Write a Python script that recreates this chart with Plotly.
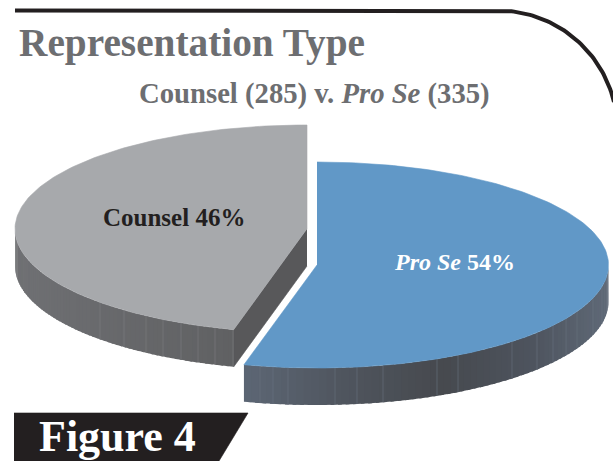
import numpy as np
import plotly.graph_objects as go

# Data
categories = ["Pro Se", "Counsel"]
counts = [335, 285]
percent_labels = ["54%", "46%"]
title_text = "Representation Type"
subtitle_text = "Counsel (285) v. <i>Pro Se</i> (335)"
banner_text = "Figure 4"

W, H = 613, 461
total = sum(counts)
split = 2 * np.pi * counts[0] / total  # clockwise angle from 12 o'clock

BLUE = dict(cx=317, cy=265, a=291.5, b=103)
GRAY = dict(cx=307, cy=229, a=292, b=104)
DEPTH = 37


def pt(g, t, dy=0):
    return g["cx"] + g["a"] * np.sin(t), g["cy"] - g["b"] * np.cos(t) + dy


fig = go.Figure()


def poly(x, y, color, line=None, w=0.6):
    fig.add_trace(go.Scatter(x=list(x), y=list(y), mode="lines", fill="toself",
                             fillcolor=color, line=dict(color=line or color, width=w),
                             hoverinfo="skip", showlegend=False))


def stroke(x, y, color, w):
    fig.add_trace(go.Scatter(x=list(x), y=list(y), mode="lines",
                             line=dict(color=color, width=w),
                             hoverinfo="skip", showlegend=False))


def lerp(stops, x):
    xs = [s[0] for s in stops]
    return "rgb(%d,%d,%d)" % tuple(
        np.interp(x, xs, [s[1][i] for s in stops]) for i in range(3))


def wall(g, t0, t1, stops, seams, seam_col, n=70):
    ts = np.linspace(t0, t1, n + 1)
    for a, b in zip(ts[:-1], ts[1:]):
        tt = np.linspace(a, b + (t1 - t0) / n * (0.5 if b != ts[-1] else 0), 4)
        x, y = pt(g, tt)
        x2, y2 = pt(g, tt[::-1], DEPTH)
        poly(np.r_[x, x2], np.r_[y, y2], lerp(stops, (x.mean())), w=0)
    for sx in seams:
        s = np.clip((sx - g["cx"]) / g["a"], -1, 1)
        yy = g["cy"] + g["b"] * np.sqrt(1 - s ** 2)
        stroke([sx, sx], [yy, yy + DEPTH], seam_col, 0.6)


# Counsel slice
t_gray = np.linspace(split, 2 * np.pi, 160)
gx, gy = pt(GRAY, t_gray)
wall(GRAY, split, 1.5 * np.pi,
     [(15, (112, 113, 116)), (100, (105, 106, 109)), (236, (96, 97, 99))],
     [100, 124, 146, 163, 181, 198, 215, 233], "#7c7d80")
ax, ay = pt(GRAY, split)
poly([GRAY["cx"], ax, ax, GRAY["cx"]],
     [GRAY["cy"], ay, ay + DEPTH, GRAY["cy"] + DEPTH], "#58585a")
poly(np.r_[gx, GRAY["cx"]], np.r_[gy, GRAY["cy"]], "#a7a9ac")

# Pro Se slice
t_blue = np.linspace(0, split, 180)
bx, by = pt(BLUE, t_blue)
wall(BLUE, 0.5 * np.pi, split,
     [(247, (92, 102, 116)), (340, (80, 86, 95)), (440, (71, 74, 79)),
      (530, (78, 84, 94)), (609, (96, 106, 120))],
     [260, 273, 288, 335, 357, 383, 437, 458, 512, 537, 553, 566, 577, 593, 602], "#68727f")
poly(np.r_[bx, BLUE["cx"]], np.r_[by, BLUE["cy"]], "#6198c7")

# Rule with rounded corner
R = 119.3
ta = np.linspace(0, np.arcsin(116 / R), 60)
rx = np.r_[15, 498 + R * np.sin(ta)]
ry = np.r_[10.5, 10.5 + R - R * np.cos(ta)]
stroke(rx, ry, "#231f20", 4)

# Banner
poly([14, 248, 219, 14], [413, 413, 461, 461], "#231f20")

F = "Liberation Serif"


def label(x, y, text, size, color, anchor="left"):
    fig.add_annotation(x=x, y=y, text=text, showarrow=False, xanchor=anchor, yanchor="middle",
                       font=dict(family=F, size=size, color=color), borderpad=0, borderwidth=0)


label(19, 43, f"<b>{title_text}</b>", 39.3, "#6d6e71")
label(139, 93, f"<b>{subtitle_text}</b>", 28.7, "#6d6e71")
label(103, 217, f"<b>{categories[1]} {percent_labels[1]}</b>", 25, "#231f20")
label(394, 262, f"<b><i>{categories[0]}</i> {percent_labels[0]}</b>", 24, "#ffffff")
label(39, 436, f"<b>{banner_text}</b>", 44, "#ffffff")

fig.update_layout(width=W, height=H, margin=dict(l=0, r=0, t=0, b=0),
                  paper_bgcolor="white", plot_bgcolor="white", showlegend=False,
                  xaxis=dict(range=[0, W], visible=False, fixedrange=True),
                  yaxis=dict(range=[H, 0], visible=False, fixedrange=True))
fig.write_html("out.html", config=dict(displayModeBar=False),
               post_script="document.body.style.margin='0';document.body.style.overflow='hidden';")
